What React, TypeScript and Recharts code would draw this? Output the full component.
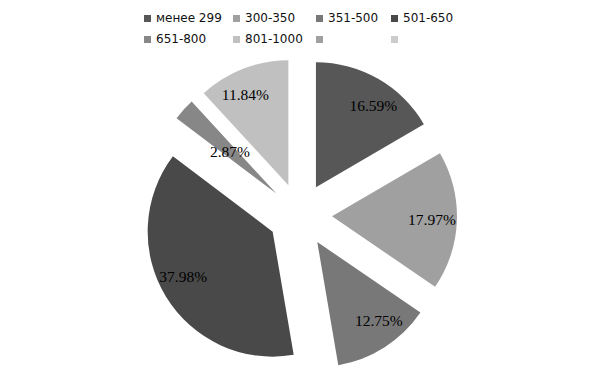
import React from "react";
import { PieChart, Pie, Cell, Sector } from "recharts";

const categories = ["менее 299", "300-350", "351-500", "501-650", "651-800", "801-1000", "", ""];
const shares = [16.59, 17.97, 12.75, 37.98, 2.87, 11.84];
const sliceColors = ["#575757", "#a0a0a0", "#787878", "#494949", "#878787", "#c0c0c0"];
const legendColors = ["#575757", "#a0a0a0", "#787878", "#494949", "#878787", "#c0c0c0", "#a0a0a0", "#cccccc"];

const data = shares.map((v, i) => ({ name: categories[i], value: v }));

const EXPLODE = 32;

const ExplodedSector = (props: any) => {
  const { cx, cy, midAngle, innerRadius, outerRadius, startAngle, endAngle, fill } = props;
  const rad = (midAngle * Math.PI) / 180;
  const dx = EXPLODE * Math.cos(rad);
  const dy = -EXPLODE * Math.sin(rad);
  return (
    <Sector
      cx={cx + dx}
      cy={cy + dy}
      innerRadius={innerRadius}
      outerRadius={outerRadius}
      startAngle={startAngle}
      endAngle={endAngle}
      fill={fill}
      stroke="none"
    />
  );
};

const renderLabel = (props: any) => {
  const { cx, cy, midAngle, outerRadius, value, percent } = props;
  if (!value) return null;
  const rad = (midAngle * Math.PI) / 180;
  const ox = cx + EXPLODE * Math.cos(rad);
  const oy = cy - EXPLODE * Math.sin(rad);
  const small = percent < 0.05;
  const r = (small ? 0.5 : 0.8) * outerRadius;
  const la = small ? rad : Math.atan2(0.82 * Math.sin(rad), Math.cos(rad));
  const x = ox + r * Math.cos(la);
  const y = oy - r * Math.sin(la);
  return (
    <text
      x={x}
      y={y}
      textAnchor="middle"
      dominantBaseline="central"
      fontFamily="'Liberation Serif', serif"
      fontSize={15.5}
      fill="#000"
    >
      {value.toFixed(2)}%
    </text>
  );
};

const legendX = [144, 233, 316, 391];

const LegendBox = () => (
  <div style={{ position: "absolute", left: 0, top: 0, width: 601, height: 50 }}>
    {categories.map((c, i) => {
      const col = i % 4;
      const row = Math.floor(i / 4);
      return (
        <div
          key={i}
          style={{
            position: "absolute",
            left: legendX[col],
            top: 10 + row * 21,
            height: 16,
            display: "flex",
            alignItems: "center",
            fontFamily: "'DejaVu Sans', sans-serif",
            fontSize: 12,
            color: "#111",
            whiteSpace: "nowrap",
          }}
        >
          <span style={{ display: "inline-block", width: 7, height: 7, background: legendColors[i], marginRight: 5 }} />
          <span>{c}</span>
        </div>
      );
    })}
  </div>
);

export default function App() {
  return (
    <div style={{ position: "absolute", left: 0, top: 0, width: 601, height: 381, background: "#fff" }}>
      <PieChart width={601} height={381} margin={{ top: 0, right: 0, bottom: 0, left: 0 }}>
        <Pie
          data={data}
          dataKey="value"
          nameKey="name"
          cx={300}
          cy={215}
          outerRadius={125}
          startAngle={90}
          endAngle={-270}
          stroke="none"
          isAnimationActive={false}
          labelLine={false}
          label={renderLabel}
          shape={ExplodedSector}
          activeShape={ExplodedSector}
          inactiveShape={ExplodedSector}
        >
          {data.map((d, i) => (
            <Cell key={i} fill={sliceColors[i]} />
          ))}
        </Pie>
      </PieChart>
      <LegendBox />
    </div>
  );
}
